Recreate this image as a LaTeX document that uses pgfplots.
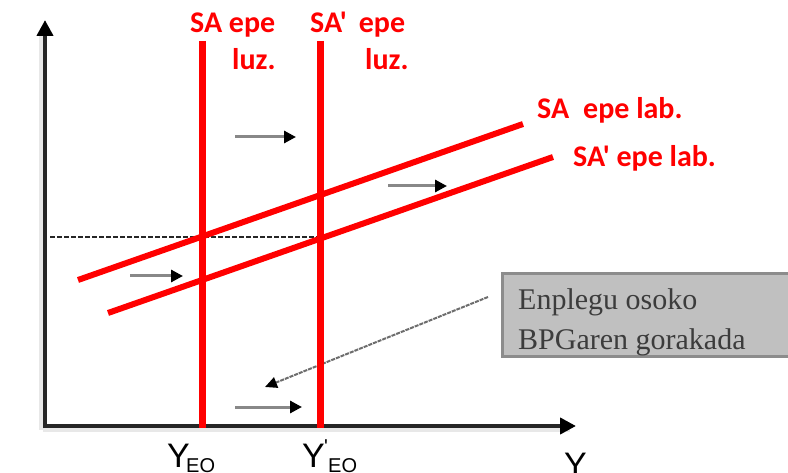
\documentclass[border=0pt]{standalone}
\usepackage{fontspec}
\setmainfont{Liberation Serif}
\newfontfamily\calfont{Carlito}
\newfontfamily\lsans{Liberation Sans}
\usepackage{pgfplots}
\pgfplotsset{compat=1.18}
\usetikzlibrary{arrows.meta}
\definecolor{axcol}{HTML}{262626}
\definecolor{shcol}{HTML}{E8E8E8}
\definecolor{boxfill}{HTML}{C0C0C0}
\definecolor{boxdraw}{HTML}{8C8C8C}
\definecolor{boxtext}{HTML}{3C3C3C}
\definecolor{shiftgray}{HTML}{888888}
\tikzset{
  lbl/.style={anchor=base west,inner sep=0pt,text=red,font=\calfont\bfseries\fontsize{30}{30}\selectfont},
  ylbl/.style={anchor=base west,inner sep=0pt,text=black,font=\lsans\fontsize{34}{34}\selectfont},
  sublbl/.style={anchor=base west,inner sep=0pt,text=black,font=\lsans\fontsize{20}{20}\selectfont},
  shiftarr/.style={shiftgray,line width=3pt,-{Triangle[length=12pt,width=12pt,color=black]}}}
\begin{document}
\begin{tikzpicture}
\begin{axis}[x=1pt,y=1pt,xmin=0,xmax=788,ymin=0,ymax=473,y dir=reverse,
  hide axis,clip=false]
% axis shadows
\addplot[shcol,line width=4pt] coordinates {(41,30) (41,430)};
\addplot[shcol,line width=4pt] coordinates {(43,430) (570,430)};
% axes
\addplot[axcol,line width=4pt,-{Triangle[length=16pt,width=16pt,color=black]}] coordinates {(45,428) (45,20)};
\addplot[axcol,line width=4pt,-{Triangle[length=16pt,width=16pt,color=black]}] coordinates {(43,426) (576,426)};
% dashed level
\addplot[axcol,line width=2pt,dash pattern=on 5pt off 2pt] coordinates {(50,237) (320,237)};
% gray box
\addplot[fill=boxfill,draw=boxdraw,line width=3pt] coordinates {(502,274) (792,274) (792,357) (502,357)} -- cycle;
% diagonal arrow
\addplot[shiftgray!80!black,line width=2pt,dash pattern=on 4pt off 1pt,-{Triangle[length=12pt,width=11pt,color=black]}] coordinates {(488,297) (265,387)};
% shift arrows
\addplot[shiftarr] coordinates {(235,137) (296,137)};
\addplot[shiftarr] coordinates {(388,186) (447,186)};
\addplot[shiftarr] coordinates {(130,276) (183,276)};
\addplot[shiftarr] coordinates {(235,407) (302,407)};
% red curves
\addplot[red,line width=6pt] coordinates {(78,280) (523,124)};
\addplot[red,line width=6pt] coordinates {(108,313) (553,157)};
\addplot[red,line width=7pt] coordinates {(202,41) (202,428)};
\addplot[red,line width=7pt] coordinates {(320,41) (320,428)};
% labels
\node[lbl] at (axis cs:190,33) {SA epe};
\node[lbl] at (axis cs:232,70) {luz.};
\node[lbl] at (axis cs:310,33) {SA'\hspace{12pt}epe};
\node[lbl] at (axis cs:365,70) {luz.};
\node[lbl] at (axis cs:537,119) {SA\hspace{14pt}epe lab.};
\node[lbl] at (axis cs:573,167) {SA' epe lab.};
\node[anchor=base west,inner sep=0pt,text=boxtext,font=\fontsize{30}{30}\selectfont] at (axis cs:518,310) {Enplegu osoko};
\node[anchor=base west,inner sep=0pt,text=boxtext,font=\fontsize{30}{30}\selectfont] at (axis cs:518,349) {BPGaren gorakada};
\node[ylbl] at (axis cs:167,467) {Y};
\node[sublbl] at (axis cs:186,472) {EO};
\node[ylbl] at (axis cs:302,467) {Y};
\node[sublbl] at (axis cs:324,453) {\textquotesingle};
\node[sublbl] at (axis cs:328,472) {EO};
\node[ylbl] at (axis cs:564,476) {Y};
\end{axis}
\pgfresetboundingbox
\path[use as bounding box] (current axis.south west) rectangle (current axis.north east);
\end{tikzpicture}
\end{document}
